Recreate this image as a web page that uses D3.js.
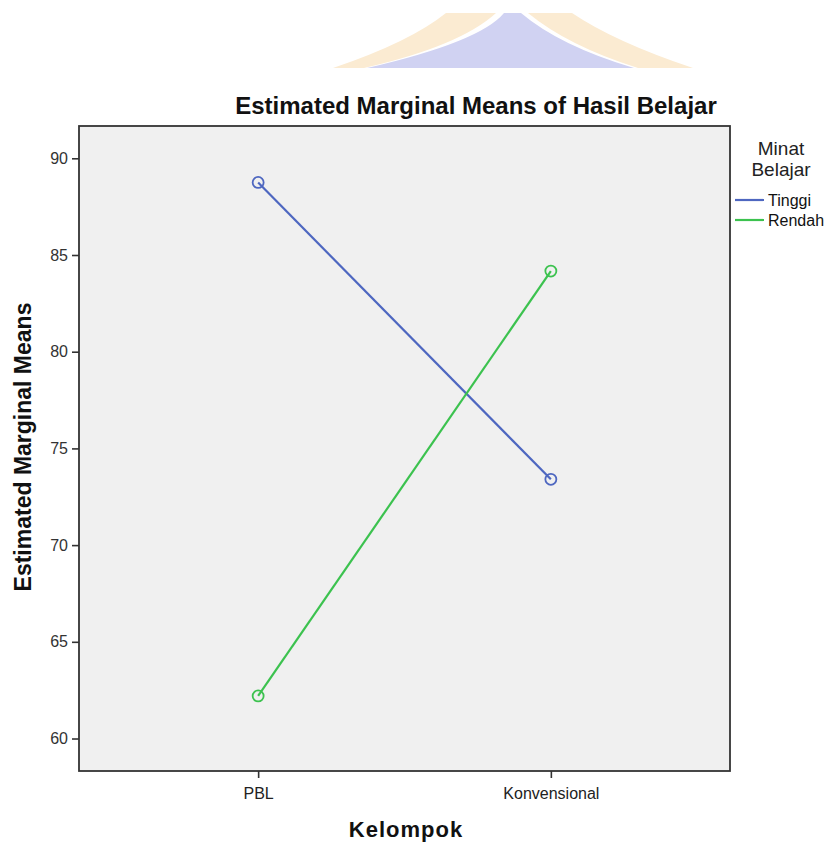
<!DOCTYPE html>
<html lang="en">
<head>
    <meta charset="UTF-8">
    <title>Estimated Marginal Means of Hasil Belajar</title>
    <script src="https://d3js.org/d3.v7.min.js"></script>
    <style>
        body { margin: 0; background: #fff; }
        text { font-family: Arial, "Liberation Sans", sans-serif; }
    </style>
</head>
<body>
    <div id="chart"></div>

    <script>
        // Data
        const kelompok = ["PBL", "Konvensional"];
        const seriesNames = ["Tinggi", "Rendah"];
        const tinggi = [88.75, 73.4];
        const rendah = [62.2, 84.17];
        const yTicks = [60, 65, 70, 75, 80, 85, 90];

        const width = 830;
        const height = 846;
        const margin = { top: 126, right: 100, bottom: 75, left: 79 };
        const colors = ["#4E67C0", "#3CC24F"];

        const svg = d3.select("#chart")
            .append("svg")
            .attr("width", width)
            .attr("height", height);

        // faint logo watermark at the top
        const logo = svg.append("g");
        logo.append("path")
            .attr("d", "M333,68 Q410,42 446,13 L496,13 Q460,46 364,68 Z")
            .attr("fill", "#FBEBD2");
        logo.append("path")
            .attr("d", "M693,68 Q615,42 572,13 L528,13 Q568,46 638,68 Z")
            .attr("fill", "#FBEBD2");
        logo.append("path")
            .attr("d", "M367,68 Q480,42 504,13 L521,13 Q560,46 634,68 Z")
            .attr("fill", "#D0D2F2");

        const x = d3.scalePoint()
            .domain(kelompok)
            .range([margin.left, width - margin.right])
            .padding(0.612);

        const y = d3.scaleLinear()
            .domain([58.32, 91.67])
            .range([height - margin.bottom, margin.top]);

        // plot background
        svg.append("rect")
            .attr("x", margin.left)
            .attr("y", margin.top)
            .attr("width", width - margin.right - margin.left)
            .attr("height", height - margin.bottom - margin.top)
            .attr("fill", "#F0F0F0")
            .attr("stroke", "#333")
            .attr("stroke-width", 1.8);

        // y axis
        const yAxis = svg.append("g")
            .attr("transform", `translate(${margin.left},0)`)
            .call(d3.axisLeft(y).tickValues(yTicks).tickSize(7).tickSizeOuter(0));
        yAxis.select(".domain").remove();
        yAxis.selectAll("line").attr("stroke", "#333").attr("stroke-width", 1.6);
        yAxis.selectAll("text")
            .attr("font-size", 16)
            .attr("fill", "#333")
            .attr("font-family", "Arial, 'Liberation Sans', sans-serif")
            .attr("x", -11);

        // x axis
        const xAxis = svg.append("g")
            .attr("transform", `translate(0,${height - margin.bottom})`)
            .call(d3.axisBottom(x).tickSize(7).tickSizeOuter(0));
        xAxis.select(".domain").remove();
        xAxis.selectAll("line").attr("stroke", "#333").attr("stroke-width", 1.6);
        xAxis.selectAll("text")
            .attr("font-size", 16)
            .attr("fill", "#222")
            .attr("font-family", "Arial, 'Liberation Sans', sans-serif")
            .attr("dy", null)
            .attr("y", 28);

        // lines and markers
        const series = [tinggi, rendah];
        const line = d3.line()
            .x((d, i) => x(kelompok[i]))
            .y(d => y(d));

        series.forEach(function (vals, s) {
            svg.append("path")
                .datum(vals)
                .attr("d", line)
                .attr("fill", "none")
                .attr("stroke", colors[s])
                .attr("stroke-width", 2.2);

            svg.selectAll(".pt" + s)
                .data(vals)
                .enter()
                .append("circle")
                .attr("cx", (d, i) => x(kelompok[i]))
                .attr("cy", d => y(d))
                .attr("r", 5.5)
                .attr("fill", "none")
                .attr("stroke", colors[s])
                .attr("stroke-width", 1.8);
        });

        // titles
        svg.append("text")
            .attr("x", 476)
            .attr("y", 114)
            .attr("text-anchor", "middle")
            .attr("font-size", 24)
            .attr("font-weight", "bold")
            .attr("fill", "#111")
            .text("Estimated Marginal Means of Hasil Belajar");

        svg.append("text")
            .attr("transform", `translate(31,447) rotate(-90)`)
            .attr("text-anchor", "middle")
            .attr("font-size", 23)
            .attr("font-weight", "bold")
            .attr("fill", "#111")
            .text("Estimated Marginal Means");

        svg.append("text")
            .attr("x", 406)
            .attr("y", 837)
            .attr("text-anchor", "middle")
            .attr("font-size", 22)
            .attr("font-weight", "bold")
            .attr("fill", "#111")
            .attr("letter-spacing", 1)
            .text("Kelompok");

        // legend
        const legend = svg.append("g");
        legend.append("text")
            .attr("x", 781).attr("y", 155)
            .attr("text-anchor", "middle")
            .attr("font-size", 19)
            .attr("fill", "#222")
            .text("Minat");
        legend.append("text")
            .attr("x", 781).attr("y", 176)
            .attr("text-anchor", "middle")
            .attr("font-size", 19)
            .attr("fill", "#222")
            .text("Belajar");

        seriesNames.forEach(function (name, i) {
            const ly = 200 + i * 20;
            legend.append("line")
                .attr("x1", 735).attr("x2", 764)
                .attr("y1", ly).attr("y2", ly)
                .attr("stroke", colors[i])
                .attr("stroke-width", 2.2);
            legend.append("text")
                .attr("x", 768).attr("y", ly + 6)
                .attr("font-size", 16)
                .attr("fill", "#111")
                .text(name);
        });
    </script>
</body>
</html>
